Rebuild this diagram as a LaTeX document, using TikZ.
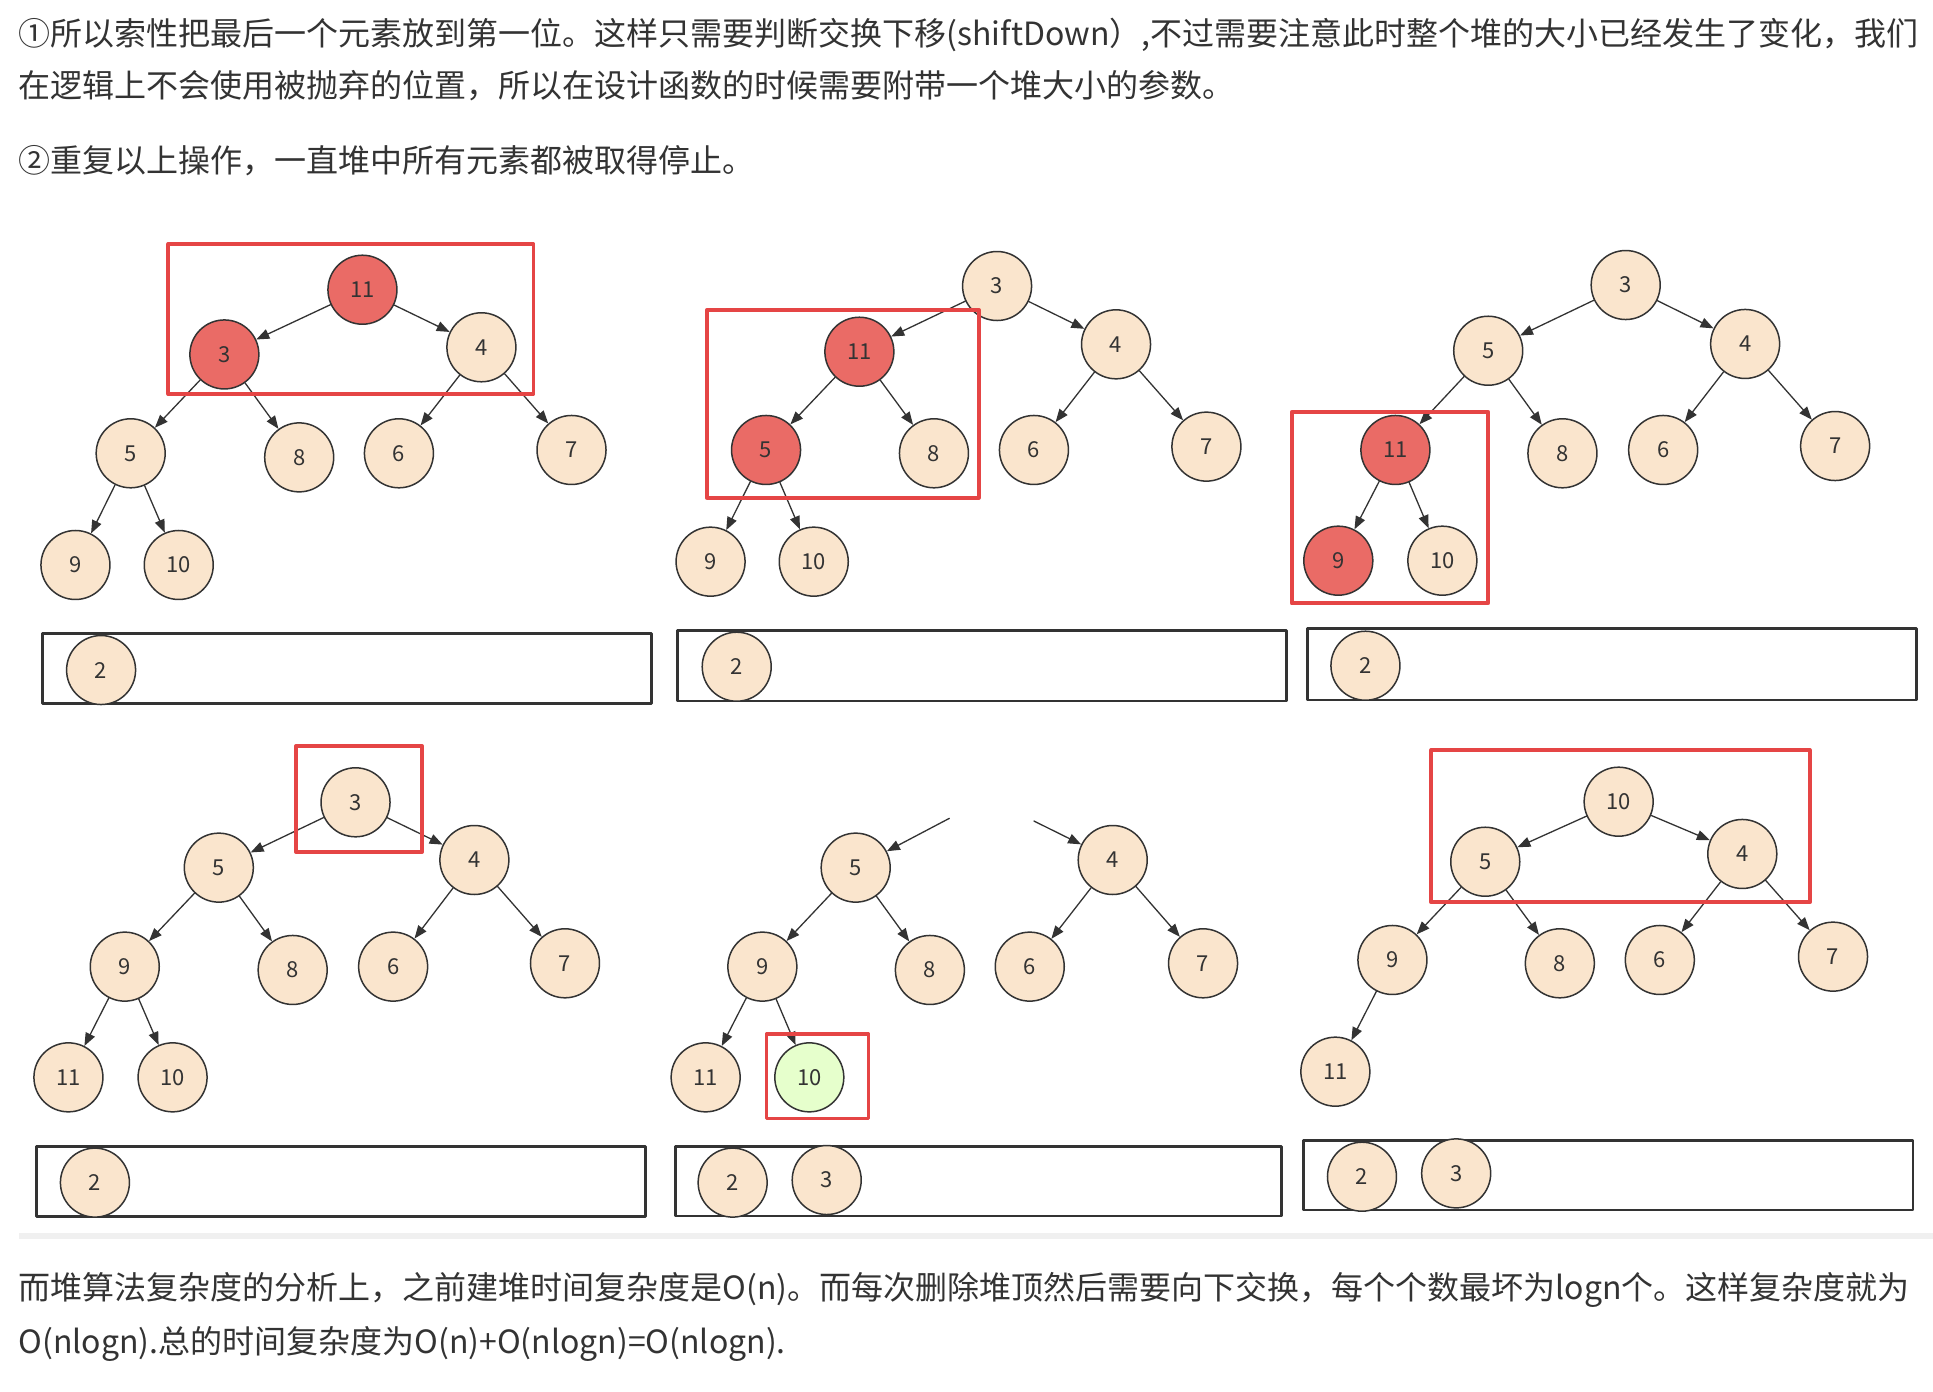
\documentclass[tikz,border=0pt]{standalone}
\usepackage{fontspec}
\setmainfont{Noto Sans CJK SC}
\usetikzlibrary{arrows.meta}
\definecolor{nodefill}{RGB}{250,229,205}
\definecolor{hotfill}{RGB}{234,107,102}
\definecolor{newfill}{RGB}{230,255,204}
\definecolor{markred}{RGB}{229,69,69}
\definecolor{inkgray}{RGB}{51,51,51}
\definecolor{rulegray}{RGB}{240,240,240}
\tikzset{
  heapnode/.style={circle,draw=inkgray,line width=1.5pt,fill=nodefill,minimum size=69pt,inner sep=0pt,
    font=\fontsize{22}{22}\selectfont,text=inkgray},
  hotnode/.style={heapnode,fill=hotfill},
  newnode/.style={heapnode,fill=newfill},
  markbox/.style={draw=markred,line width=3.8pt},
  arraybox/.style={draw=inkgray,line width=2.8pt},
  heapedge/.style={->,line width=1.3pt,draw=inkgray},
  para/.style={anchor=west,inner sep=0pt,text=inkgray,font=\fontsize{32}{40}\selectfont}
}

\begin{document}
\begin{tikzpicture}[line cap=round,line join=round,>={Triangle[length=13pt,width=10pt]},x=1.2328pt,y=-1.2328pt]
\useasboundingbox[fill=white] (0,0) rectangle (1568,1129);
\node[para] (l1) at (15,28.4) {①所以索性把最后一个元素放到第一位。这样只需要判断交换下移(shiftDown）,不过需要注意此时整个堆的大小已经发生了变化，我们};
\node[para] (l2) at (15,69.5) {在逻辑上不会使用被抛弃的位置，所以在设计函数的时候需要附带一个堆大小的参数。};
\node[para] (l3) at (15,130) {②重复以上操作，一直堆中所有元素都被取得停止。};

% top row
\node[hotnode] (a11) at (294,235) {11};
\node[hotnode] (a3) at (182,287.5) {3};
\node[heapnode] (a4) at (390.5,281.7) {4};
\node[heapnode] (a5) at (106,367.7) {5};
\node[heapnode] (a8) at (242.7,371) {8};
\node[heapnode] (a6) at (323.6,367.7) {6};
\node[heapnode] (a7) at (463.6,365) {7};
\node[heapnode] (a9) at (61.2,458.3) {9};
\node[heapnode] (a10) at (145,458.3) {10};
\foreach \u/\v in {a11/a3,a11/a4,a3/a5,a3/a8,a4/a6,a4/a7,a5/a9,a5/a10}
\draw[heapedge] (\u) -- (\v);
\draw[markbox] (136.5,198) rectangle (432.7,319.6);
\draw[arraybox] (34.5,513.7) rectangle (528.7,570.5);
\node[heapnode] (a2) at (82,543.5) {2};

\node[heapnode] (b3) at (808.8,232) {3};
\node[hotnode] (b11) at (697.1,285.3) {11};
\node[heapnode] (b4) at (905.3,279.3) {4};
\node[hotnode] (b5) at (621.4,365) {5};
\node[heapnode] (b8) at (757.6,367.7) {8};
\node[heapnode] (b6) at (838.7,365) {6};
\node[heapnode] (b7) at (978.6,362.3) {7};
\node[heapnode] (b9) at (576.4,455.6) {9};
\node[heapnode] (b10) at (660.1,455.6) {10};
\foreach \u/\v in {b3/b11,b3/b4,b11/b5,b11/b8,b4/b6,b4/b7,b5/b9,b5/b10}
\draw[heapedge] (\u) -- (\v);
\draw[markbox] (573.3,251.5) rectangle (794,403.7);
\draw[arraybox] (549.8,511.6) rectangle (1043.6,568.6);
\node[heapnode] (b2) at (597.6,540.8) {2};

\node[heapnode] (c3) at (1318.7,231.2) {3};
\node[heapnode] (c5) at (1207.2,284.5) {5};
\node[heapnode] (c4) at (1415.6,279) {4};
\node[hotnode] (c11) at (1131.9,365) {11};
\node[heapnode] (c8) at (1267.4,367.7) {8};
\node[heapnode] (c6) at (1349.1,365) {6};
\node[heapnode] (c7) at (1488.6,361.8) {7};
\node[hotnode] (c9) at (1085.6,454.8) {9};
\node[heapnode] (c10) at (1170,454.8) {10};
\foreach \u/\v in {c3/c5,c3/c4,c5/c11,c5/c8,c4/c6,c4/c7,c11/c9,c11/c10}
\draw[heapedge] (\u) -- (\v);
\draw[markbox] (1047.8,334) rectangle (1207.2,489.4);
\draw[arraybox] (1060.3,509.7) rectangle (1554.5,567.8);
\node[heapnode] (c2) at (1107.6,540) {2};

% bottom row
\node[heapnode] (d3) at (288.4,650.8) {3};
\node[heapnode] (d5) at (177.5,703.8) {5};
\node[heapnode] (d4) at (384.8,697.6) {4};
\node[heapnode] (d9) at (101.2,784.1) {9};
\node[heapnode] (d8) at (237.4,786.8) {8};
\node[heapnode] (d6) at (318.9,784.1) {6};
\node[heapnode] (d7) at (458.3,781.4) {7};
\node[heapnode] (d11) at (55.5,873.9) {11};
\node[heapnode] (d10) at (140,873.9) {10};
\foreach \u/\v in {d3/d5,d3/d4,d5/d9,d5/d8,d4/d6,d4/d7,d9/d11,d9/d10}
\draw[heapedge] (\u) -- (\v);
\draw[markbox] (240.2,605.1) rectangle (342.2,691.1);
\draw[arraybox] (29.8,930.1) rectangle (523.4,986.9);
\node[heapnode] (d2) at (77,959.3) {2};

\coordinate (eL) at (770.1,663.8);
\coordinate (eR) at (838.7,666);
\node[heapnode] (e5) at (694.1,703.8) {5};
\node[heapnode] (e4) at (902.6,697.6) {4};
\node[heapnode] (e9) at (618.4,784.1) {9};
\node[heapnode] (e8) at (754.3,786.8) {8};
\node[heapnode] (e6) at (835.3,784.1) {6};
\node[heapnode] (e7) at (975.9,781.4) {7};
\node[heapnode] (e11) at (572.4,873.9) {11};
\node[newnode] (e10) at (656.5,873.9) {10};
\foreach \u/\v in {eL/e5,eR/e4,e5/e9,e5/e8,e4/e6,e4/e7,e9/e11,e9/e10}
\draw[heapedge] (\u) -- (\v);
\draw[markbox] (621.8,839) rectangle (704.5,907.2);
\draw[arraybox] (547.8,930.1) rectangle (1039.8,986.4);
\node[heapnode] (e2) at (594.3,959.3) {2};
\node[heapnode] (e3) at (670.6,957.2) {3};

\node[heapnode] (f10) at (1313,650.3) {10};
\node[heapnode] (f5) at (1204.8,699) {5};
\node[heapnode] (f4) at (1413.3,692.7) {4};
\node[heapnode] (f9) at (1129.5,778.7) {9};
\node[heapnode] (f8) at (1265.3,781.4) {8};
\node[heapnode] (f6) at (1346.4,778.7) {6};
\node[heapnode] (f7) at (1486.9,776) {7};
\node[heapnode] (f11) at (1083.2,869.3) {11};
\foreach \u/\v in {f10/f5,f10/f4,f5/f9,f5/f8,f4/f6,f4/f7,f9/f11}
\draw[heapedge] (\u) -- (\v);
\draw[markbox] (1161,608.4) rectangle (1468,731.9);
\draw[arraybox] (1057.5,925.3) rectangle (1551.8,981.5);
\node[heapnode] (f2) at (1104.8,954.5) {2};
\node[heapnode] (f3) at (1181.2,951.8) {3};

\fill[rulegray] (15.3,1000) rectangle (1568,1005.3);
\node[para] (l4) at (15,1046) {而堆算法复杂度的分析上，之前建堆时间复杂度是O(n)。而每次删除堆顶然后需要向下交换，每个个数最坏为logn个。这样复杂度就为};
\node[para] (l5) at (15,1090) {O(nlogn).总的时间复杂度为O(n)+O(nlogn)=O(nlogn).};
\end{tikzpicture}
\end{document}
